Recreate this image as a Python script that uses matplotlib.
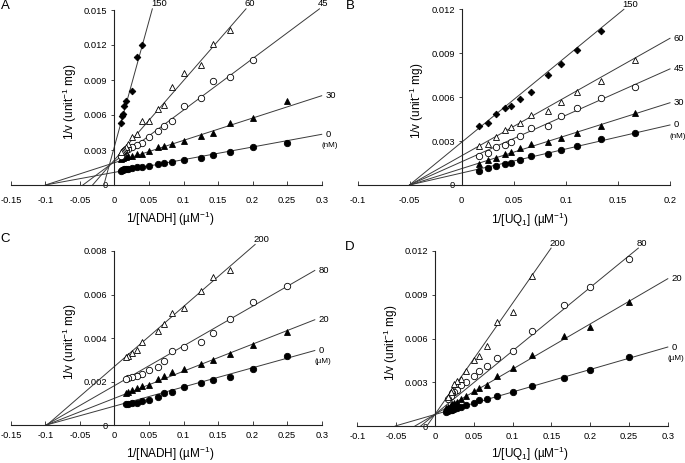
import numpy as np
import matplotlib
matplotlib.use('Agg')
import matplotlib.pyplot as plt

plt.rcParams['font.family'] = ['Liberation Sans', 'DejaVu Sans']
plt.rcParams['mathtext.fontset'] = 'custom'
plt.rcParams['mathtext.rm'] = 'Liberation Sans'
plt.rcParams['mathtext.it'] = 'Liberation Sans:italic'
plt.rcParams['axes.unicode_minus'] = False

# ---------------- data ----------------
# Panel A : 1/[NADH], inhibitor in nM
A_conc = ['0', '30', '45', '60', '150']
A_x0 = [0.25, 0.2, 0.1667, 0.1429, 0.125, 0.1, 0.0833, 0.0714, 0.0625, 0.05, 0.04,
        0.0333, 0.025, 0.02, 0.0167, 0.0143, 0.0125, 0.0111, 0.01]
A_y0 = [0.00363, 0.00329, 0.00286, 0.00257, 0.00231, 0.00214, 0.0020, 0.00186, 0.0018,
        0.00166, 0.00157, 0.00154, 0.00146, 0.0014, 0.00137, 0.00134, 0.00129, 0.00126, 0.00123]
A_x30 = A_x0
A_y30 = [0.0072, 0.00571, 0.00529, 0.00449, 0.0042, 0.00377, 0.00351, 0.00337, 0.00323,
         0.00294, 0.00266, 0.00263, 0.00251, 0.00249, 0.00243, 0.00237, 0.00232, 0.00229, 0.0022]
A_x45 = [0.2, 0.1667, 0.1429, 0.125, 0.1, 0.0833, 0.0714, 0.0625, 0.05, 0.04, 0.0333,
         0.025, 0.02, 0.0167, 0.0143, 0.0125, 0.0111, 0.01]
A_y45 = [0.0107, 0.0093, 0.0089, 0.0075, 0.0068, 0.0055, 0.0051, 0.0046, 0.0041, 0.0036,
         0.0034, 0.0033, 0.0031, 0.0030, 0.0029, 0.0027, 0.0026, 0.0025]
A_x60 = [0.1667, 0.1429, 0.125, 0.1, 0.0833, 0.0714, 0.0625, 0.05, 0.04, 0.0333, 0.025,
         0.02, 0.0167, 0.0143, 0.0125, 0.0111, 0.01]
A_y60 = [0.0133, 0.0121, 0.0103, 0.0096, 0.0084, 0.0069, 0.0065, 0.0055, 0.0055, 0.0044,
         0.0041, 0.0035, 0.0033, 0.0031, 0.0030, 0.0029, 0.0028]
A_x150 = [0.04, 0.0333, 0.025, 0.0167, 0.0143, 0.0125, 0.0111, 0.01]
A_y150 = [0.012, 0.011, 0.0081, 0.0072, 0.0068, 0.0061, 0.0059, 0.0053]
A_slope = [0.01086, 0.01914, 0.0441, 0.068, 0.215]
A_icpt = [0.001086, 0.00191, 0.00201, 0.00215, 0.0033]

# Panel B : 1/[UQ1], inhibitor in nM
B_conc = ['0', '30', '45', '60', '150']
B_x = [0.0167, 0.025, 0.0333, 0.0417, 0.0476, 0.0556, 0.0667, 0.0833, 0.0952, 0.1111,
       0.1333, 0.1667]
B_y0 = [0.00098, 0.00114, 0.00132, 0.00143, 0.00153, 0.00171, 0.0020, 0.00212, 0.00239,
        0.00266, 0.00312, 0.00357]
B_y30 = [0.00143, 0.00171, 0.00184, 0.00212, 0.00228, 0.0025, 0.00278, 0.00296, 0.00323,
         0.00357, 0.00403, 0.0049]
B_y45 = [0.0020, 0.00216, 0.00257, 0.00273, 0.00296, 0.00335, 0.00387, 0.00405, 0.00471,
         0.00524, 0.00592, 0.00672]
B_y60 = [0.00269, 0.00278, 0.00328, 0.00376, 0.00399, 0.00426, 0.00478, 0.00508, 0.00569,
         0.00635, 0.00708, 0.00854]
B_x150 = B_x[:11]
B_y150 = [0.00405, 0.00421, 0.00483, 0.00524, 0.00542, 0.00588, 0.00635, 0.00749, 0.00827,
          0.0092, 0.01052]
B_slope = [0.0164, 0.02249, 0.0317, 0.0401, 0.0583]
B_icpt = [0.00082, 0.00112, 0.00159, 0.0020, 0.00292]

# Panel C : 1/[NADH], inhibitor in uM
C_conc = ['0', '20', '80', '200']
C_x = [0.25, 0.2, 0.1667, 0.1429, 0.125, 0.1, 0.0833, 0.0714, 0.0625, 0.05, 0.04, 0.0333,
       0.025, 0.02, 0.0167]
C_y0 = [0.00317, 0.0026, 0.0022, 0.00206, 0.00194, 0.00174, 0.00153, 0.0015, 0.0013,
        0.00118, 0.0011, 0.00104, 0.00102, 0.00099, 0.00096]
C_y20 = [0.00428, 0.00367, 0.00327, 0.00301, 0.0028, 0.0026, 0.00245, 0.00225, 0.00214,
         0.00187, 0.00179, 0.00173, 0.00162, 0.00153, 0.00148]
C_y80 = [0.00639, 0.00564, 0.00486, 0.00425, 0.00381, 0.00359, 0.00341, 0.00294, 0.00268,
         0.00254, 0.00234, 0.00226, 0.0022, 0.00217, 0.00214]
C_x200 = [0.1667, 0.1429, 0.125, 0.1, 0.0833, 0.0714, 0.0625, 0.04, 0.0333, 0.025, 0.02, 0.0167]
C_y200 = [0.00711, 0.00681, 0.00615, 0.00538, 0.00516, 0.00467, 0.00433, 0.00382, 0.00344,
          0.00332, 0.00318, 0.00314]
C_slope = [0.0088, 0.01243, 0.01823, 0.0275]
C_icpt = [0.00088, 0.00124, 0.00182, 0.0027]

# Panel D : 1/[UQ1], inhibitor in uM
D_conc = ['0', '20', '80', '200']
D_x = [0.25, 0.2, 0.1667, 0.125, 0.1, 0.08, 0.0667, 0.0571, 0.05, 0.04, 0.0333, 0.0286,
       0.025, 0.0222, 0.02, 0.0167, 0.0143]
D_y0 = [0.0047, 0.00386, 0.00331, 0.00272, 0.00231, 0.00206, 0.00183, 0.00176, 0.0016,
        0.00142, 0.0013, 0.00126, 0.00119, 0.00112, 0.00107, 0.00103, 0.00096]
D_y20 = [0.0085, 0.00679, 0.00617, 0.00485, 0.00398, 0.00343, 0.00279, 0.00261, 0.0024,
         0.00203, 0.00187, 0.00165, 0.0016, 0.00153, 0.00145, 0.0013, 0.00125]
D_x80 = D_x[:16]
D_y80 = [0.01147, 0.00953, 0.00832, 0.00649, 0.00514, 0.00469, 0.00411, 0.00375, 0.00343,
         0.00302, 0.00279, 0.00245, 0.00235, 0.00224, 0.00203, 0.00187]
D_x200 = [0.125, 0.1, 0.08, 0.0667, 0.0571, 0.05, 0.04, 0.0333, 0.0286, 0.025, 0.0222, 0.02, 0.0167]
D_y200 = [0.0103, 0.0078, 0.0071, 0.0055, 0.0048, 0.0045, 0.0038, 0.0032, 0.0031, 0.0029,
          0.0025, 0.0023, 0.0020]
D_slope = [0.01542, 0.031, 0.0435, 0.0762]
D_icpt = [0.00079, 0.0008, 0.0008, 0.0008]

# ---------------- styles ----------------
filled_c = dict(marker='o', ms=4.6, mfc='black', mec='black', mew=0.6)
filled_t = dict(marker='^', ms=4.8, mfc='black', mec='black', mew=0.6)
open_c = dict(marker='o', ms=4.6, mfc='white', mec='black', mew=0.6)
open_t = dict(marker='^', ms=4.8, mfc='white', mec='black', mew=0.6)
diam = dict(marker='D', ms=3.4, mfc='black', mec='black', mew=0.6)

W, H = 685, 463
fig = plt.figure(figsize=(W / 100, H / 100), dpi=100)

LINE_C = '#3a3a3a'
SP_C = '#222222'
TICK_FS = 6.7


def make_axes(l, r, top, bottom):
    return fig.add_axes([l / W, 1 - bottom / H, (r - l) / W, (bottom - top) / H])


def style_axes(ax, xlim, ymax, xt, yt, xpad):
    ax.set_xlim(*xlim)
    ax.set_ylim(0, ymax)
    ax.patch.set_alpha(0)
    for s in ['top', 'right']:
        ax.spines[s].set_visible(False)
    ax.spines['left'].set_position(('data', 0))
    ax.spines['bottom'].set_position(('data', 0))
    for s in ['left', 'bottom']:
        ax.spines[s].set_linewidth(0.8)
        ax.spines[s].set_color(SP_C)
    ax.set_xticks(xt)
    ax.set_xticklabels([f"{round(v, 4):g}" for v in xt])
    ax.set_yticks(yt)
    ax.set_yticklabels([f"{round(v, 4):g}" for v in yt])
    ax.tick_params(axis='x', direction='in', length=3, width=0.6, pad=xpad,
                   labelsize=TICK_FS, color=SP_C)
    ax.tick_params(axis='y', direction='out', length=2, width=0.6, pad=3,
                   labelsize=TICK_FS, color=SP_C)


def draw_lines(ax, slopes, icpts, concs, ytop, xmax_line, unit):
    for m, b, c in zip(slopes, icpts, concs):
        x0 = -b / m
        xe = min(xmax_line, (ytop - b) / m)
        ax.plot([x0, xe], [m * x0 + b, m * xe + b], color=LINE_C, lw=0.7,
                clip_on=False, zorder=2)
        ye = m * xe + b
        if xe < xmax_line - 1e-9:
            ax.annotate(c, (xe, ye), xytext=(-1.0, 3.6), textcoords='offset points',
                        ha='left', va='center', fontsize=6.8, annotation_clip=False)
        else:
            ax.annotate(c, (xe, ye), xytext=(2.5, 0), textcoords='offset points',
                        ha='left', va='center', fontsize=6.8, annotation_clip=False)
            if c == '0':
                ax.annotate(unit, (xe, ye), xytext=(0, -8.2), textcoords='offset points',
                            ha='left', va='center', fontsize=5.8, annotation_clip=False)


def pts(ax, x, y, st):
    ax.plot(x, y, ls='none', clip_on=False, zorder=3, **st)


ylab = r'1/v (unit$\mathregular{^{-1}}$ mg)'
xlab_n = r'1/[NADH] (µM$\mathregular{^{-1}}$)'
xlab_q = r'1/[UQ$\mathregular{_1}$] (µM$\mathregular{^{-1}}$)'

# ---- Panel A ----
axA = make_axes(10.8, 321.7, 10, 185)
style_axes(axA, (-0.15, 0.3), 0.015, np.arange(-0.15, 0.301, 0.05),
           np.arange(0, 0.0151, 0.003), 8.2)
draw_lines(axA, A_slope, A_icpt, A_conc, 0.0151, 0.3, '(nM)')
pts(axA, A_x0, A_y0, filled_c)
pts(axA, A_x30, A_y30, filled_t)
pts(axA, A_x45, A_y45, open_c)
pts(axA, A_x60, A_y60, open_t)
pts(axA, A_x150, A_y150, diam)

# ---- Panel B ----
axB = make_axes(357.5, 670, 9.3, 185)
style_axes(axB, (-0.1, 0.2), 0.012, np.arange(-0.1, 0.201, 0.05),
           np.arange(0, 0.0121, 0.003), 8.2)
draw_lines(axB, B_slope, B_icpt, B_conc, 0.0120, 0.2, '(nM)')
pts(axB, B_x, B_y0, filled_c)
pts(axB, B_x, B_y30, filled_t)
pts(axB, B_x, B_y45, open_c)
pts(axB, B_x, B_y60, open_t)
pts(axB, B_x150, B_y150, diam)

# ---- Panel C ----
axC = make_axes(10.8, 321.7, 251, 425.3)
style_axes(axC, (-0.15, 0.3), 0.008, np.arange(-0.15, 0.301, 0.05),
           np.arange(0, 0.0081, 0.002), 4.0)
draw_lines(axC, C_slope, C_icpt, C_conc, 0.0083, 0.29, '(µM)')
pts(axC, C_x, C_y0, filled_c)
pts(axC, C_x, C_y20, filled_t)
pts(axC, C_x, C_y80, open_c)
pts(axC, C_x200, C_y200, open_t)

# ---- Panel D ----
axD = make_axes(357.4, 667.8, 251, 426)
style_axes(axD, (-0.1, 0.3), 0.012, np.arange(-0.1, 0.301, 0.05),
           np.arange(0, 0.0121, 0.003), 4.5)
draw_lines(axD, D_slope, D_icpt, D_conc, 0.0122, 0.3, '(µM)')
pts(axD, D_x, D_y0, filled_c)
pts(axD, D_x, D_y20, filled_t)
pts(axD, D_x80, D_y80, open_c)
pts(axD, D_x200, D_y200, open_t)

# ---- axis titles and panel letters (pixel placement) ----
def ftext(px, py, s, **kw):
    fig.text(px / W, 1 - py / H, s, **kw)

ftext(170, 219, xlab_n, ha='center', va='center', fontsize=8.5)
ftext(530, 220, xlab_q, ha='center', va='center', fontsize=8.5)
ftext(170, 454, xlab_n, ha='center', va='center', fontsize=8.5)
ftext(530, 454, xlab_q, ha='center', va='center', fontsize=8.5)

ftext(70, 102, ylab, ha='center', va='center', rotation=90, fontsize=8.5)
ftext(416.5, 101, ylab, ha='center', va='center', rotation=90, fontsize=8.5)
ftext(70, 342, ylab, ha='center', va='center', rotation=90, fontsize=8.5)
ftext(391, 343, ylab, ha='center', va='center', rotation=90, fontsize=8.5)

ftext(5, 6, 'A', ha='center', va='center', fontsize=9.5)
ftext(350, 6, 'B', ha='center', va='center', fontsize=9.5)
ftext(5, 239, 'C', ha='center', va='center', fontsize=9.5)
ftext(350, 247, 'D', ha='center', va='center', fontsize=9.5)

fig.savefig('out.png', dpi=100)
